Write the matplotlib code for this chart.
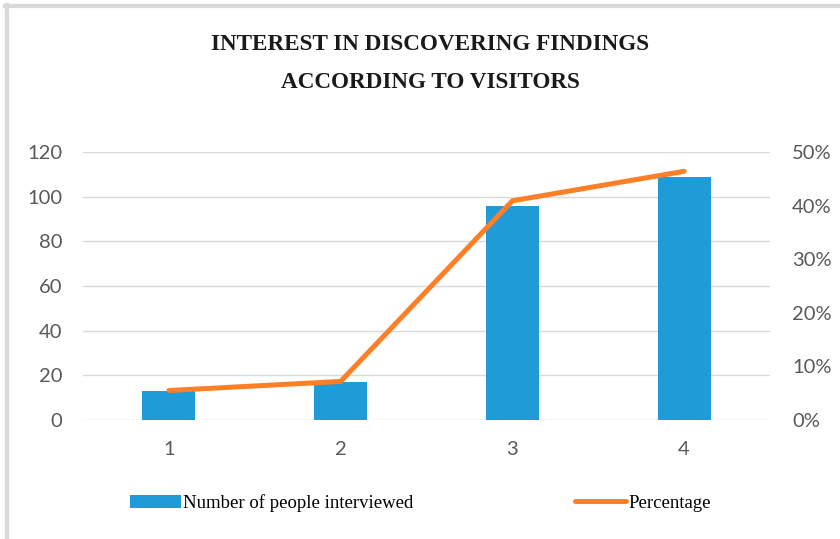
import matplotlib
matplotlib.use("Agg")
import matplotlib.pyplot as plt
from matplotlib.lines import Line2D
from matplotlib.ticker import FuncFormatter

# data
groups = [1, 2, 3, 4]
people = [13, 17, 96, 109]
percent = [5.5, 7.2, 40.9, 46.4]

left_ticks = [0, 20, 40, 60, 80, 100, 120]
right_ticks = [0, 10, 20, 30, 40, 50]

blue = "#1f9bd7"
orange = "#ff7f27"
grey_txt = "#595959"

fig = plt.figure(figsize=(8.4, 5.39), dpi=100)
ax = fig.add_axes([83 / 840, 1 - 420 / 539, 687 / 840, 268 / 539])

bars = ax.bar(groups, people, width=0.31, color=blue, zorder=2, label="Number of people interviewed")
ax.set_xlim(0.5, 4.5)
ax.set_ylim(0, 120)
ax.set_yticks(left_ticks)
ax.set_xticks(groups)
ax.grid(axis="y", color="#d9d9d9", linewidth=1.0, zorder=0)
ax.set_axisbelow(True)
for s in ax.spines.values():
    s.set_visible(False)
ax.tick_params(axis="both", length=0, labelsize=14.5, labelcolor=grey_txt)
ax.tick_params(axis="y", pad=15)
ax.tick_params(axis="x", pad=15)
for lab in ax.get_xticklabels() + ax.get_yticklabels():
    lab.set_family("Lato")

# percentage on the right axis
ax2 = ax.twinx()
line, = ax2.plot(groups, percent, color=orange, linewidth=3.6, solid_capstyle="round",
                 solid_joinstyle="round", label="Percentage")
ax2.set_ylim(0, 50)
ax2.set_yticks(right_ticks)
ax2.yaxis.set_major_formatter(FuncFormatter(lambda v, p: f"{v:.0f}%"))
for s in ax2.spines.values():
    s.set_visible(False)
ax2.tick_params(axis="y", length=0, labelsize=14.5, labelcolor=grey_txt, pad=16)
for lab in ax2.get_yticklabels():
    lab.set_family("Lato")

# title
fig.text(430 / 840, 1 - 45 / 539, "INTEREST IN DISCOVERING FINDINGS", ha="center", va="center",
         family="Liberation Serif", fontweight="bold", fontsize=16.7, color="#1a1a1a")
fig.text(430 / 840, 1 - 82 / 539, "ACCORDING TO VISITORS", ha="center", va="center",
         family="Liberation Serif", fontweight="bold", fontsize=16.7, color="#1a1a1a")

# legend
fig.legend([bars, line], ["Number of people interviewed", "Percentage"], loc="center left",
           bbox_to_anchor=(130 / 840, 1 - 503 / 539), ncol=2, frameon=False,
           borderpad=0, borderaxespad=0, handlelength=2.7, handletextpad=0.15,
           columnspacing=8.6, prop={"family": "Liberation Serif", "size": 13.5})

# light grey frame on the top and left edges
fig.add_artist(Line2D([5 / 840, 1], [1 - 6.3 / 539, 1 - 6.3 / 539], color="#d9d9d9", linewidth=3))
fig.add_artist(Line2D([7 / 840, 7 / 840], [0, 1 - 4.5 / 539], color="#d9d9d9", linewidth=3))

plt.savefig("out.png", dpi=100)
